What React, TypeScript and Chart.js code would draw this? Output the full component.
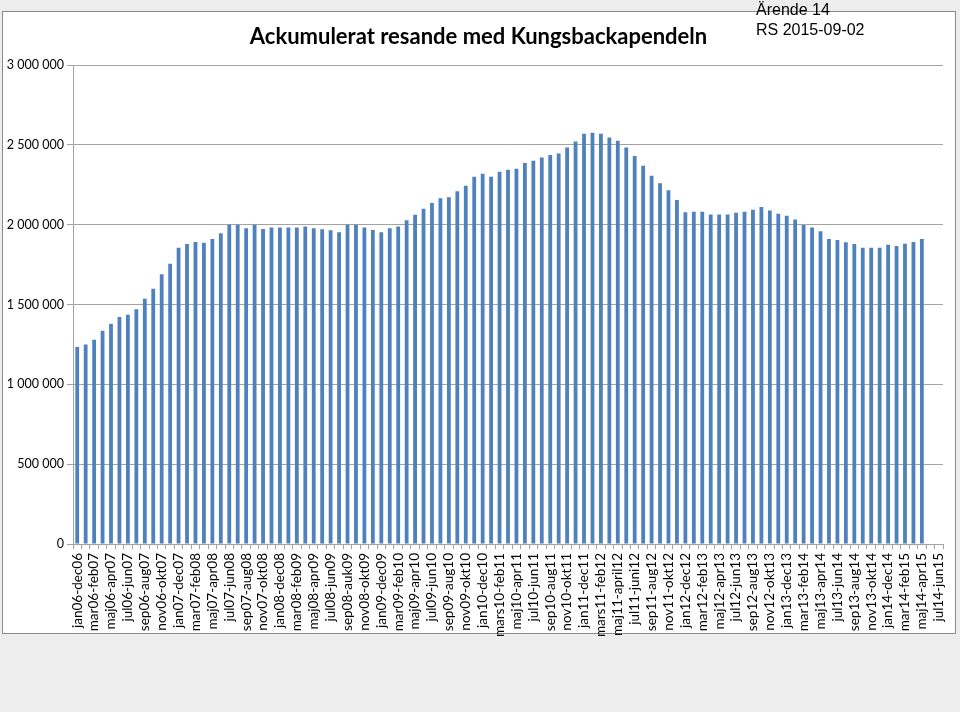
import React, { useEffect, useRef } from "react";
import { Chart, registerables } from "chart.js";

Chart.register(...registerables);

const chartTitle = "Ackumulerat resande med Kungsbackapendeln";
const noteLines = ["Ärende 14", "RS 2015-09-02"];

const categories = [
  "jan06-dec06", "feb06-jan07", "mar06-feb07", "apr06-mar07", "maj06-apr07", "jun06-maj07",
  "jul06-jun07", "aug06-jul07", "sep06-aug07", "okt06-sep07", "nov06-okt07", "dec06-nov07",
  "jan07-dec07", "feb07-jan08", "mar07-feb08", "apr07-mar08", "maj07-apr08", "jun07-maj08",
  "jul07-jun08", "aug07-jul08", "sep07-aug08", "okt07-sep08", "nov07-okt08", "dec07-nov08",
  "jan08-dec08", "feb08-jan09", "mar08-feb09", "apr08-mar09", "maj08-apr09", "jun08-maj09",
  "jul08-jun09", "aug08-jul09", "sep08-auk09", "okt08-sep09", "nov08-okt09", "dec08-nov09",
  "jan09-dec09", "feb09-jan10", "mar09-feb10", "apr09-mar10", "maj09-apr10", "jun09-maj10",
  "jul09-jun10", "aug09-jul10", "sep09-aug10", "okt09-sep10", "nov09-okt10", "dec09-nov10",
  "jan10-dec10", "feb10-jan11", "mars10-feb11", "apr10-mar11", "maj10-apr11", "jun10-maj11",
  "jul10-jun11", "aug10-jul11", "sep10-aug11", "okt10-sep11", "nov10-okt11", "dec10-nov11",
  "jan11-dec11", "feb11-jan12", "mars11-feb12", "apr11-mar12", "maj11-april12", "jun11-maj12",
  "jul11-juni12", "aug11-jul12", "sep11-aug12", "okt11-sep12", "nov11-okt12", "dec11-nov12",
  "jan12-dec12", "feb12-jan13", "mar12-feb13", "apr12-mar13", "maj12-apr13", "jun12-maj13",
  "jul12-jun13", "aug12-jul13", "sep12-aug13", "okt12-sep13", "nov12-okt13", "dec12-nov13",
  "jan13-dec13", "feb13-jan14", "mar13-feb14", "apr13-mar14", "maj13-apr14", "jun13-maj14",
  "jul13-jun14", "aug13-jul14", "sep13-aug14", "okt13-sep14", "nov13-okt14", "dec13-nov14",
  "jan14-dec14", "feb14-jan15", "mar14-feb15", "apr14-mar15", "maj14-apr15", "jun14-maj15",
  "jul14-jun15",
];

const riders: (number | null)[] = [
  1234000, 1250000, 1279000, 1336000, 1379000, 1421000, 1436000, 1471000, 1536000, 1598000,
  1690000, 1756000, 1856000, 1879000, 1892000, 1886000, 1911000, 1946000, 2000000, 2000000,
  1978000, 2000000, 1973000, 1983000, 1983000, 1983000, 1983000, 1988000, 1977000, 1971000,
  1965000, 1952000, 2000000, 2000000, 1983000, 1967000, 1952000, 1977000, 1988000, 2027000,
  2062000, 2100000, 2136000, 2165000, 2171000, 2209000, 2244000, 2300000, 2319000, 2300000,
  2331000, 2344000, 2350000, 2386000, 2400000, 2421000, 2436000, 2446000, 2484000, 2521000,
  2569000, 2575000, 2569000, 2546000, 2525000, 2484000, 2430000, 2369000, 2306000, 2259000,
  2215000, 2154000, 2077000, 2081000, 2081000, 2063000, 2063000, 2063000, 2075000, 2081000,
  2094000, 2110000, 2088000, 2069000, 2056000, 2033000, 1998000, 1983000, 1958000, 1910000,
  1904000, 1890000, 1879000, 1856000, 1856000, 1856000, 1875000, 1867000, 1881000, 1892000,
  1910000, null, null,
];

const yMin = 0;
const yMax = 3000000;
const yStep = 500000;

const fmt = (v: number) => String(Math.round(v)).replace(/\B(?=(\d{3})+(?!\d))/g, " ");

const shiftTitle = {
  id: "shiftTitle",
  afterLayout(chart: any) {
    const t = chart.titleBlock;
    if (t) {
      t.left += 14;
      t.width -= 14;
    }
  },
};

export default function App() {
  const ref = useRef<HTMLCanvasElement>(null);

  useEffect(() => {
    if (!ref.current) return;
    const gridColor = "#a3a3a3";
    const chart = new Chart(ref.current, {
      type: "bar",
      data: {
        labels: categories,
        datasets: [
          {
            label: "Resande",
            data: riders,
            backgroundColor: "#4f81bd",
            borderWidth: 0,
            barPercentage: 0.45,
            categoryPercentage: 1,
          },
        ],
      },
      plugins: [shiftTitle],
      options: {
        responsive: false,
        animation: false,
        layout: { padding: { left: 0, right: 17, top: 0, bottom: 0 } },
        plugins: {
          legend: { display: false },
          tooltip: { enabled: false },
          title: {
            display: true,
            text: chartTitle,
            color: "#000",
            font: { family: "Lato", size: 22, weight: "bold", lineHeight: 1.2 },
            padding: { top: 24, bottom: 14.6 },
          },
        },
        scales: {
          x: {
            offset: true,
            grid: {
              display: true,
              offset: true,
              drawOnChartArea: false,
              drawTicks: true,
              tickLength: 5,
              color: gridColor,
            },
            border: { display: true, color: gridColor },
            ticks: {
              autoSkip: false,
              maxRotation: 90,
              minRotation: 90,
              padding: 4,
              color: "#000",
              font: { family: "Lato", size: 13.5 },
              callback: (_v: any, i: number) => (i % 2 === 0 ? categories[i] : ""),
            },
            afterFit: (s: any) => {
              s.height = 168;
            },
          },
          y: {
            min: yMin,
            max: yMax,
            grid: { color: gridColor, drawTicks: true, tickLength: 6 },
            border: { display: true, color: gridColor },
            ticks: {
              stepSize: yStep,
              padding: 3,
              color: "#000",
              font: { family: "Lato", size: 12.5 },
              callback: (v: any) => fmt(Number(v)),
            },
            afterFit: (s: any) => {
              s.width = 73;
            },
          },
        },
      },
    });
    return () => chart.destroy();
  }, []);

  return (
    <div
      style={{
        position: "fixed",
        left: 0,
        top: 0,
        width: 960,
        height: 712,
        background: "#ededed",
        overflow: "hidden",
      }}
    >
      <div
        style={{
          position: "absolute",
          left: 2,
          top: 11,
          width: 952,
          height: 621,
          background: "#ffffff",
          border: "1px solid #8a8a8a",
        }}
      />
      <canvas
        ref={ref}
        width={960}
        height={712}
        style={{ position: "absolute", left: 0, top: 0, width: 960, height: 712 }}
      />
      <div
        style={{
          position: "absolute",
          left: 756,
          top: 0,
          fontFamily: "'Liberation Sans', Arial, sans-serif",
          fontSize: 16,
          lineHeight: "20px",
          color: "#000",
        }}
      >
        {noteLines.map((t) => (
          <div key={t}>{t}</div>
        ))}
      </div>
    </div>
  );
}
